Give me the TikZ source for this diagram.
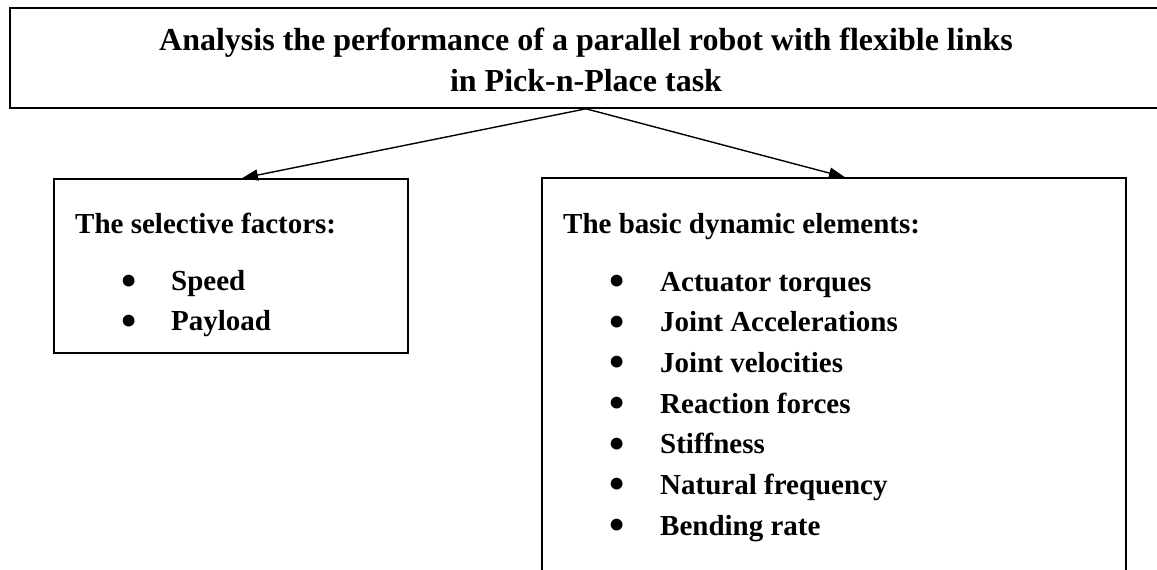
\documentclass[tikz,border=0pt]{standalone}
\usepackage{fontspec}
\setmainfont{Liberation Serif}
\usetikzlibrary{arrows.meta}
\begin{document}
\begin{tikzpicture}[x=1pt,y=-1pt,
  frame/.style={draw,line width=1.6pt,inner sep=0pt,rectangle},
  link/.style={line width=1.4pt,-{Triangle[length=16pt,width=11pt]}},
  headfont/.style={font=\fontsize{32}{38}\selectfont\bfseries,inner sep=0pt,anchor=base},
  boxtext/.style={font=\fontsize{29}{34}\selectfont\bfseries,inner sep=0pt,anchor=base west},
  dot/.style={font=\fontsize{29}{34}\selectfont\bfseries,inner sep=0pt,anchor=center}]
\clip (0,0) rectangle (1157,570);

% title box (runs past the right edge of the page)
\node[frame,minimum width=1152pt,minimum height=100pt] (title) at (586,58) {};
\node[headfont] (t1) at (586,50) {Analysis the performance of a parallel robot with flexible links};
\node[headfont] (t2) at (586,91) {in Pick-n-Place task};

% left box: selective factors
\node[frame,minimum width=354pt,minimum height=174pt] (lbox) at (231,266) {};
\node[boxtext] (lhead) at (75,233) {The selective factors:};
\foreach \n/\txt [count=\i] in {speed/Speed,payload/Payload}{
  \node[dot] (ldot\i) at (129,{285+40*(\i-1)}) {\scalebox{1.5}{\textbullet}};
  \node[boxtext] (l\n) at (171,{290+40*(\i-1)}) {\txt};
}

% right box: basic dynamic elements (continues below the page)
\node[frame,minimum width=584pt,minimum height=440pt] (rbox) at (834,398) {};
\node[boxtext] (rhead) at (563,233) {The basic dynamic elements:};
\foreach \txt [count=\i] in {Actuator torques,Joint Accelerations,Joint velocities,Reaction forces,Stiffness,Natural frequency,Bending rate}{
  \node[dot] (rdot\i) at (617,{285.5+40.67*(\i-1)}) {\scalebox{1.5}{\textbullet}};
  \node[boxtext] (ritem\i) at (660,{291+40.67*(\i-1)}) {\txt};
}

% connectors
\draw[link] (title.south) -- ([xshift=11pt]lbox.north);
\draw[link] (title.south) -- ([xshift=11pt]rbox.north);
\end{tikzpicture}
\end{document}
